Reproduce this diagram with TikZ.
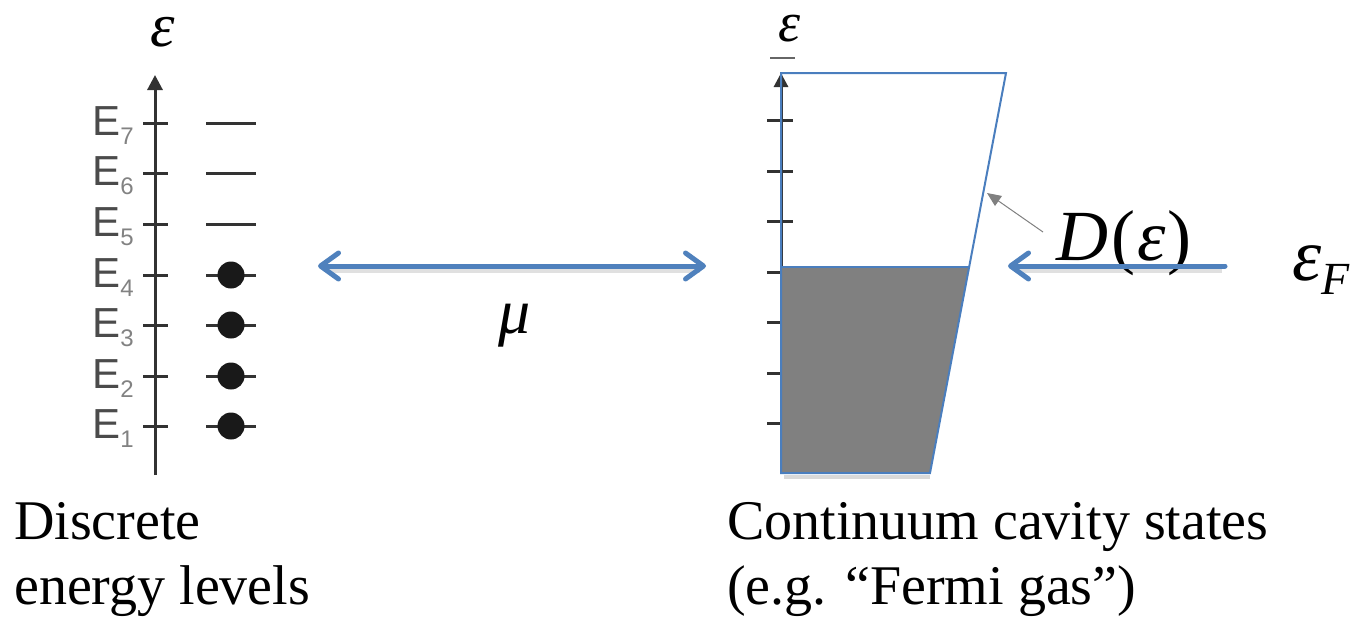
\documentclass[tikz,border=0pt]{standalone}
\usepackage{fontspec}
\setmainfont{Liberation Serif}
\newfontfamily\labfont{Liberation Sans}
\usetikzlibrary{arrows.meta}
\definecolor{pblue}{RGB}{79,129,189}
\definecolor{tblue}{RGB}{74,126,190}
\definecolor{axisgray}{RGB}{50,50,50}
\definecolor{elabgray}{RGB}{75,75,75}
\definecolor{esubgray}{RGB}{130,130,130}
\definecolor{fillgray}{RGB}{128,128,128}
\begin{document}
\begin{tikzpicture}[x=1pt,y=-1pt,
  axisline/.style={axisgray, line width=3pt},
  tickline/.style={axisgray, line width=3pt},
  levelline/.style={black!80, line width=3pt},
  dotmark/.style={circle, fill=black!90, minimum size=27pt, inner sep=0pt},
  elab/.style={elabgray, font=\fontsize{42}{42}\selectfont\labfont, inner sep=0pt, anchor=base east},
  bluearrow/.style={pblue, line width=5pt, line cap=round},
  shadowline/.style={black, opacity=0.12, line width=6pt},
  txt/.style={font=\fontsize{56}{65}\selectfont, align=left, inner sep=0pt, anchor=north west},
  mathlab/.style={inner sep=0pt, font=\itshape}
]
\useasboundingbox (0,0) rectangle (1357,621);

% ---------- left: discrete levels ----------
\coordinate (la0) at (155,475);
\coordinate (la1) at (155,75);
\draw[axisline, -{Triangle[length=15pt, width=15pt]}] (la0) -- (la1);
\foreach \i/\y in {1/426,2/376,3/325,4/275,5/224,6/173,7/123}{
  \draw[tickline] (143,\y) -- (168,\y);
  \node[elab] (E\i) at (134,\y+12) {E\raisebox{-9pt}{\fontsize{24}{24}\selectfont\color{esubgray}\i}};
}
\foreach \y in {224,173,123}{
  \draw[levelline] (206,\y) -- (256,\y);
}
\foreach \i/\y in {1/426,2/376,3/325,4/275}{
  \draw[levelline] (206,\y) -- (256,\y);
  \node[dotmark] (d\i) at (231,\y) {};
}
\node[mathlab, anchor=base] (epsL) at (163,46) {\fontsize{62}{62}\selectfont ε};

% ---------- middle arrow ----------
\coordinate (ma) at (318,266);
\coordinate (mb) at (706,266);
\draw[shadowline] (326,270) -- (700,270);
\draw[bluearrow, {Straight Barb[length=18pt, width=26pt, line cap=round, line join=round]}-{Straight Barb[length=18pt, width=26pt, line cap=round, line join=round]}] (ma) -- (mb);
\node[mathlab, anchor=base] (mu) at (515,333) {\fontsize{64}{64}\selectfont μ};

% ---------- right: continuum ----------
\coordinate (tl) at (781,73);
\coordinate (tr) at (1006,73);
\coordinate (br) at (930,473);
\coordinate (bl) at (781,473);
\coordinate (fl) at (781,267);
\coordinate (fr) at (969,267);
\draw[black!60, line width=2pt] (770,58) -- (795,58);
\draw[black, opacity=0.15, line width=4pt] (784,477) -- (930,477);
\draw[axisline, -{Triangle[length=14pt, width=14pt]}] (bl) -- (tl);
\foreach \y in {120,171,221,272,322,373,423}{
  \draw[tickline] (767,\y) -- (793,\y);
}
\fill[fillgray] (fl) -- (fr) -- (br) -- (bl) -- cycle;
\draw[tblue, line width=2pt, line join=miter] (fl) -- (fr);
\draw[tblue, line width=2pt, line join=miter] (tl) -- (tr) -- (br) -- (bl) -- cycle;
\node[mathlab, anchor=base] (epsR) at (790,41) {\fontsize{56}{56}\selectfont ε};

% D(eps) label and pointer
\node[mathlab, anchor=base west] (dlab) at (1056,260) {\fontsize{72}{72}\selectfont D\hspace{3pt}{\upshape(}\hspace{2pt}ε\hspace{2pt}{\upshape)}};
\coordinate (ga0) at (1043,232);
\coordinate (ga1) at (987,193);
\draw[black!50, line width=1pt, -{Triangle[length=14pt, width=12pt]}] (ga0) -- (ga1);

% Fermi arrow
\coordinate (fa0) at (1225,266);
\coordinate (fa1) at (1008,266);
\draw[shadowline] (1222,270) -- (1016,270);
\draw[bluearrow, -{Straight Barb[length=18pt, width=26pt, line cap=round, line join=round]}] (fa0) -- (fa1);
\node[mathlab, anchor=base west] (epsF) at (1292,280) {\fontsize{74}{74}\selectfont ε\raisebox{-14pt}{\fontsize{46}{46}\selectfont F}};

% ---------- captions ----------
\node[txt] (disc) at (14,502) {Discrete\\energy levels};
\node[txt] (cont) at (727,502) {Continuum cavity states\\(e.g. “Fermi gas”)};
\end{tikzpicture}
\end{document}
